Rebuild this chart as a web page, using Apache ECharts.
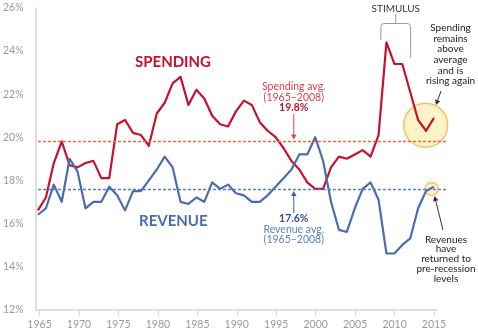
<!DOCTYPE html>
<html>
<head>
<meta charset="utf-8">
<script src="https://cdn.jsdelivr.net/npm/echarts@6/dist/echarts.min.js"></script>
<style>
  html, body { margin: 0; padding: 0; background: #fff; }
  #chart { width: 478px; height: 335px; }
</style>
</head>
<body>
<div id="chart"></div>
<script>
// Federal spending and revenue as a share of GDP
const years = [1965, 1966, 1967, 1968, 1969, 1970, 1971, 1972, 1973, 1974,
  1975, 1976, 1977, 1978, 1979, 1980, 1981, 1982, 1983, 1984,
  1985, 1986, 1987, 1988, 1989, 1990, 1991, 1992, 1993, 1994,
  1995, 1996, 1997, 1998, 1999, 2000, 2001, 2002, 2003, 2004,
  2005, 2006, 2007, 2008, 2009, 2010, 2011, 2012, 2013, 2014, 2015];

const spending = [16.6, 17.2, 18.8, 19.8, 18.7, 18.6, 18.8, 18.9, 18.1, 18.1,
  20.6, 20.8, 20.2, 20.1, 19.6, 21.1, 21.6, 22.5, 22.8, 21.5,
  22.2, 21.8, 21.0, 20.6, 20.5, 21.2, 21.7, 21.5, 20.7, 20.3,
  20.0, 19.5, 18.9, 18.5, 17.9, 17.6, 17.6, 18.6, 19.1, 19.0,
  19.2, 19.4, 19.1, 20.1, 24.4, 23.4, 23.4, 22.1, 20.8, 20.3, 20.9];

const revenue = [16.4, 16.7, 17.8, 17.0, 19.0, 18.4, 16.7, 17.0, 17.0, 17.7,
  17.3, 16.6, 17.5, 17.5, 18.0, 18.5, 19.1, 18.6, 17.0, 16.9,
  17.2, 17.0, 17.9, 17.6, 17.8, 17.4, 17.3, 17.0, 17.0, 17.3,
  17.7, 18.1, 18.5, 19.2, 19.2, 20.0, 18.9, 17.0, 15.7, 15.6,
  16.7, 17.6, 17.9, 17.1, 14.6, 14.6, 15.0, 15.3, 16.7, 17.5, 17.7];

const spendingAvg = 19.8;
const revenueAvg = 17.6;
const avgPeriod = [1965, 2008];

const xTickYears = [1965, 1970, 1975, 1980, 1985, 1990, 1995, 2000, 2005, 2010, 2015];
const yMin = 12, yMax = 26, yStep = 2;

// highlighted points: latest spending swing and latest revenue level
const spendingHighlight = [[2013.95, 20.56]];
const revenueHighlight = [[2014.7, 17.6]];

const FONT = 'Lato, "Open Sans", sans-serif';
const RED = '#c4122f';
const BLUE = '#4a6cb1';
const AXIS = '#d6d6d6';
const LABEL = '#999999';

const chart = echarts.init(document.getElementById('chart'), null, { renderer: 'canvas' });

const pairs = (vals) => years.map((y, i) => [y, vals[i]]);

const avgLine = (value, color) => ({
  silent: true,
  symbol: ['none', 'none'],
  label: { show: false },
  lineStyle: { type: [3, 2], color: color, width: 1.3 },
  data: [[{ coord: [avgPeriod[0], value] }, { coord: [2016.7, value] }]]
});

const highlightStyle = { color: 'rgba(255, 241, 190, 0.85)', borderColor: '#f7c06c', borderWidth: 1.5, opacity: 1 };

chart.setOption({
  animation: false,
  grid: [
    { left: 34, right: 30, top: 8, bottom: 25.5 },
    { left: 34, right: 41, top: 8, bottom: 25.5 }
  ],
  xAxis: [
    { gridIndex: 0, type: 'value', min: 1964.5, max: 2016.77, show: false },
    {
      gridIndex: 1, type: 'value', min: 1964.5, max: 2015.38,
      axisLine: { show: true, lineStyle: { color: AXIS, width: 1.5 } },
      axisTick: { show: true, length: 6, customValues: xTickYears, lineStyle: { color: AXIS, width: 1.2 } },
      axisLabel: {
        customValues: xTickYears, formatter: (v) => String(v),
        color: LABEL, fontSize: 10.5, fontFamily: FONT, margin: 10
      },
      splitLine: { show: false }
    }
  ],
  yAxis: [
    { gridIndex: 0, type: 'value', min: yMin, max: yMax, show: false },
    {
      gridIndex: 1, type: 'value', min: yMin, max: yMax, interval: yStep,
      axisLine: { show: true, lineStyle: { color: AXIS, width: 1.5 } },
      axisTick: { show: false },
      axisLabel: { formatter: '{value}%', color: LABEL, fontSize: 10.5, fontFamily: FONT, margin: 12 },
      splitLine: { show: false }
    }
  ],
  series: [
    {
      type: 'scatter', xAxisIndex: 0, yAxisIndex: 0, z: 1, silent: true,
      data: spendingHighlight, symbolSize: 44, itemStyle: highlightStyle
    },
    {
      type: 'scatter', xAxisIndex: 0, yAxisIndex: 0, z: 1, silent: true,
      data: revenueHighlight, symbolSize: 13, itemStyle: highlightStyle
    },
    {
      name: 'Spending', type: 'line', xAxisIndex: 0, yAxisIndex: 0, z: 3,
      data: pairs(spending), showSymbol: false, symbol: 'none',
      lineStyle: { color: RED, width: 2.2, join: 'round' },
      markLine: avgLine(spendingAvg, '#e8683f')
    },
    {
      name: 'Revenue', type: 'line', xAxisIndex: 0, yAxisIndex: 0, z: 3,
      data: pairs(revenue), showSymbol: false, symbol: 'none',
      lineStyle: { color: BLUE, width: 2.2, join: 'round' },
      markLine: avgLine(revenueAvg, '#5a7cc0')
    }
  ]
});

// ---- annotations ----
const toPx = (x, y) => chart.convertToPixel({ gridIndex: 0 }, [x, y]);

function text(str, x, y, opts) {
  const o = opts || {};
  return {
    type: 'text', z: 10, silent: true,
    style: {
      text: str, x: x, y: y,
      fill: o.fill || '#222',
      font: (o.weight || 'normal') + ' ' + (o.size || 10) + 'px ' + FONT,
      lineHeight: o.lineHeight || 11,
      align: o.align || 'center', textAlign: o.align || 'center',
      verticalAlign: 'middle', textVerticalAlign: 'middle'
    }
  };
}

function arrow(x1, y1, x2, y2, color, head) {
  const h = head || 4.5;
  const ang = Math.atan2(y2 - y1, x2 - x1);
  const w = h * 0.55;
  const bx = x2 - h * Math.cos(ang), by = y2 - h * Math.sin(ang);
  const px = -Math.sin(ang) * w, py = Math.cos(ang) * w;
  return [
    { type: 'line', z: 10, silent: true, shape: { x1: x1, y1: y1, x2: bx, y2: by }, style: { stroke: color, lineWidth: 1 } },
    { type: 'polygon', z: 10, silent: true, shape: { points: [[x2, y2], [bx + px, by + py], [bx - px, by - py]] }, style: { fill: color } }
  ];
}

const sAvgY = toPx(1997.3, spendingAvg);
const rAvgY = toPx(1997.3, revenueAvg);
const stimL = toPx(2008.3, 0)[0], stimR = toPx(2012.05, 0)[0];
const stimC = (stimL + stimR) / 2;
const bracketTop = 23.5;
// bracket with softened corners
const bracketPoints = [
  [stimL, 40], [stimL, bracketTop + 3], [stimL + 0.9, bracketTop + 0.9], [stimL + 3, bracketTop],
  [stimR - 3, bracketTop], [stimR - 0.9, bracketTop + 0.9], [stimR, bracketTop + 3], [stimR, 58]
];

const graphics = [
  text('SPENDING', 135, 62, { fill: RED, weight: 'bold', size: 15, align: 'left' }),
  text('REVENUE', 139, 221, { fill: BLUE, weight: 'bold', size: 15, align: 'left' }),

  text('Spending avg.', sAvgY[0], 87, { fill: '#d9434d', size: 10.5 }),
  text('(' + avgPeriod[0] + '–' + avgPeriod[1] + ')', sAvgY[0], 97.5, { fill: '#d9434d', size: 10.5 }),
  text(spendingAvg.toFixed(1) + '%', sAvgY[0], 108, { fill: RED, weight: 'bold', size: 10.5 }),
  ...arrow(sAvgY[0], 114, sAvgY[0], sAvgY[1] - 2, '#d9434d', 5),

  text(revenueAvg.toFixed(1) + '%', rAvgY[0], 219, { fill: '#2d4f90', weight: 'bold', size: 10.5 }),
  text('Revenue avg.', rAvgY[0], 229.5, { fill: '#5a7fc4', size: 10.5 }),
  text('(' + avgPeriod[0] + '–' + avgPeriod[1] + ')', rAvgY[0], 240, { fill: '#5a7fc4', size: 10.5 }),
  ...arrow(rAvgY[0], 213, rAvgY[0], rAvgY[1] + 2, '#3d5f9f', 5),

  text('STIMULUS', stimC, 9, { fill: '#333', size: 10 }),
  {
    type: 'polyline', z: 10, silent: true,
    shape: { points: bracketPoints },
    style: { stroke: '#9a9a9a', lineWidth: 1, fill: null }
  },
  { type: 'line', z: 10, silent: true, shape: { x1: stimC, y1: bracketTop, x2: stimC, y2: 14 }, style: { stroke: '#9a9a9a', lineWidth: 1 } },

  text('Spending\nremains\nabove\naverage\nand is\nrising again', 450.5, 54.5, { fill: '#1a1a1a', size: 10, lineHeight: 10.6 }),
  ...arrow(441, 91, 436, 105, '#333', 5),

  text('Revenues\nhave\nreturned to\npre-recession\nlevels', 446, 259, { fill: '#1a1a1a', size: 10, lineHeight: 9.8 }),
  ...arrow(443, 230, 434.5, 196, '#333', 5)
];

chart.setOption({ graphic: graphics });
</script>
</body>
</html>
